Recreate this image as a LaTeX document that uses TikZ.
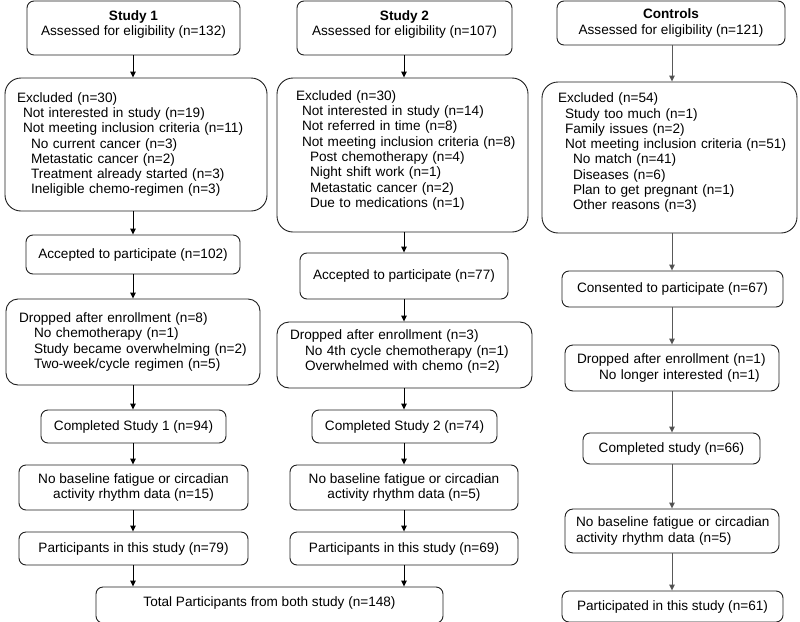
\documentclass[tikz,border=0pt]{standalone}
\usepackage{fontspec}
\setmainfont{Liberation Sans}
\usetikzlibrary{arrows.meta}
\newcommand{\rowL}[2]{\hspace*{#1}\mbox{#2}}
\tikzset{
  bx/.style={draw=black!88, line width=0.9pt, rounded corners=7pt,
    font=\fontsize{13.6}{15.3}\selectfont, inner sep=0pt, align=center},
  cbox/.style 2 args={bx, minimum width=#1, minimum height=#2},
  lbox/.style n args={3}{bx, align=left, text width=#1, inner xsep=#2, minimum height=#3},
  arr/.style={line width=0.9pt, draw=black, -{Triangle[length=6pt,width=5.5pt]}},
  garr/.style={arr, draw=black!65, -{Triangle[length=6pt,width=5.5pt,fill=black!70]}}
}
\begin{document}
\begin{tikzpicture}[x=1pt,y=-1pt]
\useasboundingbox (0,0) rectangle (800,621);
\fill[white] (0,0) rectangle (800,621);
\coordinate (c1) at (133,0);
\coordinate (c2) at (404,0);
\coordinate (c3) at (672,0);

% ---- Study 1 ----
\node[cbox={213pt}{54pt}] (s1) at (133.5,28) {\textbf{Study 1}\\Assessed for eligibility (n=132)\\[-6pt]\mbox{}};
\node[lbox={238pt}{12pt}{133pt}, rounded corners=16pt] (ex1) at (136,144.5) {%
\rowL{0pt}{Excluded (n=30)}\\
\rowL{6pt}{Not interested in study (n=19)}\\
\rowL{6pt}{Not meeting inclusion criteria (n=11)}\\
\rowL{14pt}{No current cancer (n=3)}\\
\rowL{14pt}{Metastatic cancer (n=2)}\\
\rowL{14pt}{Treatment already started (n=3)}\\
\rowL{14pt}{Ineligible chemo-regimen (n=3)}};
\node[cbox={214pt}{39pt}] (ac1) at (133,254.5) {Accepted to participate (n=102)};
\node[lbox={228pt}{13pt}{86pt}, rounded corners=12pt] (dr1) at (133,342) {%
\rowL{0pt}{Dropped after enrollment (n=8)}\\
\rowL{15pt}{No chemotherapy (n=1)}\\
\rowL{15pt}{Study became overwhelming (n=2)}\\
\rowL{15pt}{Two-week/cycle regimen (n=5)}};
\node[cbox={185pt}{33pt}] (co1) at (133.5,426.5) {Completed Study 1 (n=94)};
\node[cbox={229pt}{45pt}] (nb1) at (133.5,487.5) {No baseline fatigue or circadian\\activity rhythm data (n=15)};
\node[cbox={229pt}{33pt}] (p1) at (133.5,548.5) {Participants in this study (n=79)};

% ---- Study 2 ----
\node[cbox={215pt}{54pt}] (s2) at (404.5,28) {\textbf{Study 2}\\Assessed for eligibility (n=107)\\[-6pt]\mbox{}};
\node[lbox={213pt}{19pt}{154pt}, rounded corners=16pt] (ex2) at (402.5,155) {%
\rowL{0pt}{Excluded (n=30)}\\
\rowL{6pt}{Not interested in study (n=14)}\\
\rowL{6pt}{Not referred in time (n=8)}\\
\rowL{6pt}{Not meeting inclusion criteria (n=8)}\\
\rowL{14pt}{Post chemotherapy (n=4)}\\
\rowL{14pt}{Night shift work (n=1)}\\
\rowL{14pt}{Metastatic cancer (n=2)}\\
\rowL{14pt}{Due to medications (n=1)}\\[-3pt]\mbox{}};
\node[cbox={208pt}{46pt}] (ac2) at (404,276) {Accepted to participate (n=77)};
\node[lbox={229pt}{13pt}{66pt}, rounded corners=12pt] (dr2) at (404.5,355) {%
\rowL{0pt}{Dropped after enrollment (n=3)}\\
\rowL{15pt}{No 4th cycle chemotherapy (n=1)}\\
\rowL{15pt}{Overwhelmed with chemo (n=2)}\\[-6pt]\mbox{}};
\node[cbox={185pt}{33pt}] (co2) at (404.5,426.5) {Completed Study 2 (n=74)};
\node[cbox={228pt}{45pt}] (nb2) at (404,487.5) {No baseline fatigue or circadian\\activity rhythm data (n=5)};
\node[cbox={228pt}{33pt}] (p2) at (404,548.5) {Participants in this study (n=69)};

\node[cbox={347pt}{36pt}] (tot) at (269.5,605) {Total Participants from both study (n=148)\\[-9pt]\mbox{}};

% ---- Controls ----
\node[cbox={228pt}{44pt}] (ct) at (671,23) {\textbf{Controls}\\Assessed for eligibility (n=121)};
\node[lbox={223pt}{16pt}{151pt}, rounded corners=16pt] (ex3) at (669.5,157.5) {%
\rowL{0pt}{Excluded (n=54)}\\
\rowL{7pt}{Study too much (n=1)}\\
\rowL{7pt}{Family issues (n=2)}\\
\rowL{7pt}{Not meeting inclusion criteria (n=51)}\\
\rowL{15pt}{No match (n=41)}\\
\rowL{15pt}{Diseases (n=6)}\\
\rowL{15pt}{Plan to get pregnant (n=1)}\\
\rowL{15pt}{Other reasons (n=3)}\\[-3pt]\mbox{}};
\node[cbox={221pt}{36pt}] (cs3) at (672.5,289) {Consented to participate (n=67)};
\node[lbox={190pt}{12pt}{46pt}, rounded corners=8pt] (dr3) at (672,368) {%
\rowL{0pt}{Dropped after enrollment (n=1)}\\
\rowL{22pt}{No longer interested (n=1)}};
\node[cbox={177pt}{31pt}] (co3) at (671.5,448.5) {Completed study (n=66)};
\node[lbox={192pt}{11pt}{44pt}, rounded corners=8pt] (nb3) at (672,531) {%
\rowL{0pt}{No baseline fatigue or circadian}\\
\rowL{0pt}{activity rhythm data (n=5)}};
\node[cbox={221pt}{31pt}] (p3) at (672.5,606.5) {Participated in this study (n=61)};

% ---- connectors ----
\foreach \a/\b in {s1/ex1, ex1/ac1, ac1/dr1, dr1/co1, co1/nb1, nb1/p1, p1/tot}
  \draw[arr] (\a.south -| c1) -- (\b.north -| c1);
\foreach \a/\b in {s2/ex2, ex2/ac2, ac2/dr2, dr2/co2, co2/nb2, nb2/p2, p2/tot}
  \draw[arr] (\a.south -| c2) -- (\b.north -| c2);
\foreach \a/\b in {ct/ex3, ex3/cs3, cs3/dr3, dr3/co3, co3/nb3, nb3/p3}
  \draw[garr] (\a.south -| c3) -- (\b.north -| c3);
\end{tikzpicture}
\end{document}
